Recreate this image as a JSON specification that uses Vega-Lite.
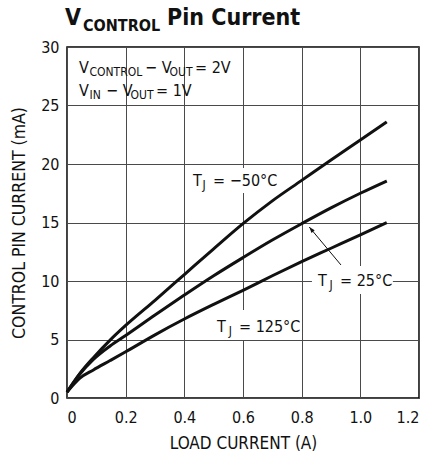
{
  "$schema": "https://vega.github.io/schema/vega-lite/v6.json",
  "width": 352,
  "height": 351,
  "autosize": "none",
  "padding": {"left": 67, "top": 47, "right": 11, "bottom": 60},
  "background": "white",
  "config": {
    "font": "DejaVu Sans Condensed, sans-serif",
    "view": {"stroke": "#000", "strokeWidth": 1.5},
    "axis": {
      "domain": false, "ticks": false, "grid": true, "gridColor": "#4a4a4a", "gridWidth": 1, "gridOpacity": 1,
      "labelFont": "DejaVu Sans Condensed, sans-serif", "labelFontSize": 16, "labelColor": "#111",
      "titleFont": "DejaVu Sans Condensed, sans-serif", "titleFontWeight": "normal", "titleColor": "#111"
    }
  },
  "datasets": {
    "curves": [
      {"t": "-50", "x": 0.0, "y": 0.5}, {"t": "-50", "x": 0.044, "y": 2.1}, {"t": "-50", "x": 0.09, "y": 3.45}, {"t": "-50", "x": 0.147, "y": 4.95}, {"t": "-50", "x": 0.2, "y": 6.2}, {"t": "-50", "x": 0.3, "y": 8.35}, {"t": "-50", "x": 0.4, "y": 10.55}, {"t": "-50", "x": 0.5, "y": 12.75}, {"t": "-50", "x": 0.6, "y": 14.9}, {"t": "-50", "x": 0.7, "y": 16.85}, {"t": "-50", "x": 0.8, "y": 18.6}, {"t": "-50", "x": 0.9, "y": 20.35}, {"t": "-50", "x": 1.0, "y": 22.05}, {"t": "-50", "x": 1.09, "y": 23.6},
      {"t": "25", "x": 0.0, "y": 0.5}, {"t": "25", "x": 0.044, "y": 2.05}, {"t": "25", "x": 0.09, "y": 3.3}, {"t": "25", "x": 0.147, "y": 4.45}, {"t": "25", "x": 0.2, "y": 5.35}, {"t": "25", "x": 0.3, "y": 7.1}, {"t": "25", "x": 0.4, "y": 8.8}, {"t": "25", "x": 0.5, "y": 10.45}, {"t": "25", "x": 0.6, "y": 12.0}, {"t": "25", "x": 0.7, "y": 13.5}, {"t": "25", "x": 0.8, "y": 14.9}, {"t": "25", "x": 0.9, "y": 16.25}, {"t": "25", "x": 1.0, "y": 17.5}, {"t": "25", "x": 1.09, "y": 18.55},
      {"t": "125", "x": 0.0, "y": 0.5}, {"t": "125", "x": 0.044, "y": 1.7}, {"t": "125", "x": 0.09, "y": 2.4}, {"t": "125", "x": 0.147, "y": 3.2}, {"t": "125", "x": 0.2, "y": 3.95}, {"t": "125", "x": 0.3, "y": 5.4}, {"t": "125", "x": 0.4, "y": 6.75}, {"t": "125", "x": 0.5, "y": 8.0}, {"t": "125", "x": 0.6, "y": 9.2}, {"t": "125", "x": 0.7, "y": 10.45}, {"t": "125", "x": 0.8, "y": 11.65}, {"t": "125", "x": 0.9, "y": 12.8}, {"t": "125", "x": 1.0, "y": 13.95}, {"t": "125", "x": 1.09, "y": 15.0}
    ],
    "boxes": [
      {"x": 0.4125, "x2": 0.713, "y": 17.52, "y2": 19.66},
      {"x": 0.835, "x2": 1.111, "y": 8.89, "y2": 11.28},
      {"x": 0.4875, "x2": 0.794, "y": 4.96, "y2": 7.52}
    ],
    "labels": [
      {"kind": "main", "x": 0.0409, "y": 27.8, "text": "V"},
      {"kind": "sub", "x": 0.0767, "y": 27.8, "text": "CONTROL"},
      {"kind": "main", "x": 0.266, "y": 27.8, "text": "− V"},
      {"kind": "sub", "x": 0.3494, "y": 27.8, "text": "OUT"},
      {"kind": "main", "x": 0.4364, "y": 27.8, "text": "= 2V"},
      {"kind": "main", "x": 0.0409, "y": 25.85, "text": "V"},
      {"kind": "sub", "x": 0.0767, "y": 25.85, "text": "IN"},
      {"kind": "main", "x": 0.1330, "y": 25.85, "text": "− V"},
      {"kind": "sub", "x": 0.2165, "y": 25.85, "text": "OUT"},
      {"kind": "main", "x": 0.3034, "y": 25.85, "text": "= 1V"},
      {"kind": "main", "x": 0.4295, "y": 18.12, "text": "T"},
      {"kind": "sub", "x": 0.462, "y": 18.12, "text": "J"},
      {"kind": "main", "x": 0.498, "y": 18.12, "text": "= −50°C"},
      {"kind": "main", "x": 0.8557, "y": 9.57, "text": "T"},
      {"kind": "sub", "x": 0.895, "y": 9.57, "text": "J"},
      {"kind": "main", "x": 0.9307, "y": 9.57, "text": "= 25°C"},
      {"kind": "main", "x": 0.5114, "y": 5.67, "text": "T"},
      {"kind": "sub", "x": 0.551, "y": 5.67, "text": "J"},
      {"kind": "main", "x": 0.5864, "y": 5.67, "text": "= 125°C"}
    ],
    "title": [
      {"kind": "main", "x": -0.0068, "y": 31.88, "text": "V"},
      {"kind": "sub", "x": 0.0545, "y": 31.88, "text": "CONTROL"},
      {"kind": "main", "x": 0.341, "y": 31.88, "text": "Pin Current"}
    ],
    "arrow": [{"x": 0.934, "y": 11.37, "x2": 0.826, "y2": 14.61}]
  },
  "layer": [
    {
      "data": {"name": "boxes"},
      "mark": {"type": "rect", "fill": "white"},
      "encoding": {
        "x": {"field": "x", "type": "quantitative", "scale": {"domain": [0, 1.2]}, "axis": {"values": [0, 0.2, 0.4, 0.6, 0.8, 1.0, 1.2], "labelExpr": "datum.value == 0 ? '0' : format(datum.value, '.1f')", "title": "LOAD CURRENT (A)", "titleFontSize": 17, "labelPadding": 11, "titlePadding": 10}},
        "x2": {"field": "x2"},
        "y": {"field": "y", "type": "quantitative", "scale": {"domain": [0, 30]}, "axis": {"values": [0, 5, 10, 15, 20, 25, 30], "title": "CONTROL PIN CURRENT (mA)", "titleFontSize": 17.5, "labelPadding": 8, "titlePadding": 12}},
        "y2": {"field": "y2"}
      }
    },
    {
      "data": {"name": "curves"},
      "mark": {"type": "line", "color": "#111", "strokeWidth": 3, "interpolate": "monotone"},
      "encoding": {
        "x": {"field": "x", "type": "quantitative"},
        "y": {"field": "y", "type": "quantitative"},
        "detail": {"field": "t"}
      }
    },
    {
      "data": {"name": "arrow"},
      "mark": {"type": "rule", "color": "#111", "strokeWidth": 1},
      "encoding": {
        "x": {"field": "x", "type": "quantitative"},
        "y": {"field": "y", "type": "quantitative"},
        "x2": {"field": "x2"},
        "y2": {"field": "y2"}
      }
    },
    {
      "data": {"name": "arrow"},
      "mark": {"type": "point", "shape": "M0,0 L-0.35,1 L0.35,1 Z", "filled": true, "color": "#111", "size": 140, "angle": 320, "opacity": 1},
      "encoding": {
        "x": {"field": "x2", "type": "quantitative"},
        "y": {"field": "y2", "type": "quantitative"}
      }
    },
    {
      "data": {"name": "labels"},
      "transform": [{"filter": "datum.kind == 'main'"}],
      "mark": {"type": "text", "align": "left", "baseline": "alphabetic", "fontSize": 16, "color": "#111"},
      "encoding": {
        "x": {"field": "x", "type": "quantitative"},
        "y": {"field": "y", "type": "quantitative"},
        "text": {"field": "text"}
      }
    },
    {
      "data": {"name": "labels"},
      "transform": [{"filter": "datum.kind == 'sub'"}],
      "mark": {"type": "text", "align": "left", "baseline": "alphabetic", "fontSize": 12, "dy": 3, "color": "#111"},
      "encoding": {
        "x": {"field": "x", "type": "quantitative"},
        "y": {"field": "y", "type": "quantitative"},
        "text": {"field": "text"}
      }
    },
    {
      "data": {"name": "title"},
      "transform": [{"filter": "datum.kind == 'main'"}],
      "mark": {"type": "text", "align": "left", "baseline": "alphabetic", "fontSize": 23, "fontWeight": "bold", "color": "#111"},
      "encoding": {
        "x": {"field": "x", "type": "quantitative"},
        "y": {"field": "y", "type": "quantitative"},
        "text": {"field": "text"}
      }
    },
    {
      "data": {"name": "title"},
      "transform": [{"filter": "datum.kind == 'sub'"}],
      "mark": {"type": "text", "align": "left", "baseline": "alphabetic", "fontSize": 16, "fontWeight": "bold", "dy": 6, "color": "#111"},
      "encoding": {
        "x": {"field": "x", "type": "quantitative"},
        "y": {"field": "y", "type": "quantitative"},
        "text": {"field": "text"}
      }
    }
  ]
}
